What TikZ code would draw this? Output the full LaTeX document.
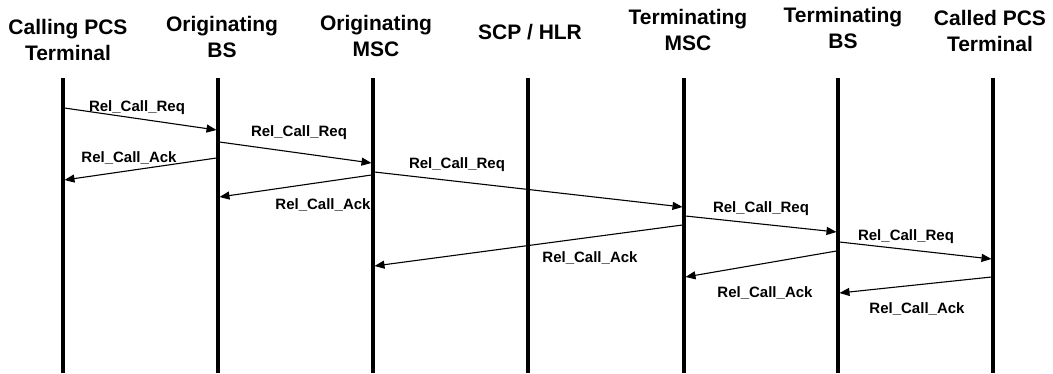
\documentclass[tikz,border=0pt]{standalone}
\usepackage{fontspec}
\setmainfont{Liberation Sans}
\usetikzlibrary{arrows.meta}
\begin{document}
\begin{tikzpicture}[x=1pt,y=-1pt,
  life/.style={line width=3.4pt},
  msg/.style={line width=1.1pt,-{Triangle[length=10pt,width=8pt]}},
  hdr/.style={font=\fontsize{21}{25.5}\selectfont\bfseries, align=center, inner sep=0pt, anchor=base},
  lbl/.style={font=\fontsize{15}{18}\selectfont\bfseries, inner sep=0pt, anchor=base}]
\useasboundingbox (0,0) rectangle (1053,373);
% headers (anchor = baseline of the last line)
\node[hdr] (h1) at (68,60) {Calling PCS\\Terminal};
\node[hdr] (h2) at (222,57) {Originating\\BS};
\node[hdr] (h3) at (376,56) {Originating\\MSC};
\node[hdr] (h4) at (530,39) {SCP / HLR};
\node[hdr] (h5) at (688,50) {Terminating\\MSC};
\node[hdr] (h6) at (843,48) {Terminating\\BS};
\node[hdr] (h7) at (990,51) {Called PCS\\Terminal};
% lifelines
\foreach \i/\x in {1/63,2/218,3/373,4/528,5/684,6/838,7/993}{
  \coordinate (L\i t) at (\x,78);
  \coordinate (L\i b) at (\x,373);
  \draw[life] (L\i t) -- (L\i b);
}
% message end points
\coordinate (m1s) at (64.5,108);  \coordinate (m1e) at (216.5,130);
\coordinate (m2s) at (219.5,142); \coordinate (m2e) at (371.5,163);
\coordinate (m3s) at (216.5,158); \coordinate (m3e) at (64.5,180);
\coordinate (m4s) at (371.5,175); \coordinate (m4e) at (219.5,197);
\coordinate (m5s) at (374.5,172); \coordinate (m5e) at (682.5,207);
\coordinate (m6s) at (685.5,216); \coordinate (m6e) at (836.5,232);
\coordinate (m7s) at (682.5,225); \coordinate (m7e) at (374.5,266);
\coordinate (m8s) at (839.5,242); \coordinate (m8e) at (991.5,259);
\coordinate (m9s) at (836.5,251); \coordinate (m9e) at (685.5,277);
\coordinate (m10s) at (991.5,277); \coordinate (m10e) at (839.5,293);
\foreach \k in {1,...,10}{\draw[msg] (m\k s) -- (m\k e);}
% labels
\node[lbl] (t1) at (137,111) {Rel\_Call\_Req};
\node[lbl] (t2) at (299,136) {Rel\_Call\_Req};
\node[lbl] (t3) at (129,162) {Rel\_Call\_Ack};
\node[lbl] (t4) at (323,209) {Rel\_Call\_Ack};
\node[lbl] (t5) at (457,168) {Rel\_Call\_Req};
\node[lbl] (t6) at (761,212) {Rel\_Call\_Req};
\node[lbl] (t7) at (590,262) {Rel\_Call\_Ack};
\node[lbl] (t8) at (906,240) {Rel\_Call\_Req};
\node[lbl] (t9) at (765,297) {Rel\_Call\_Ack};
\node[lbl] (t10) at (917,313) {Rel\_Call\_Ack};
\end{tikzpicture}
\end{document}
